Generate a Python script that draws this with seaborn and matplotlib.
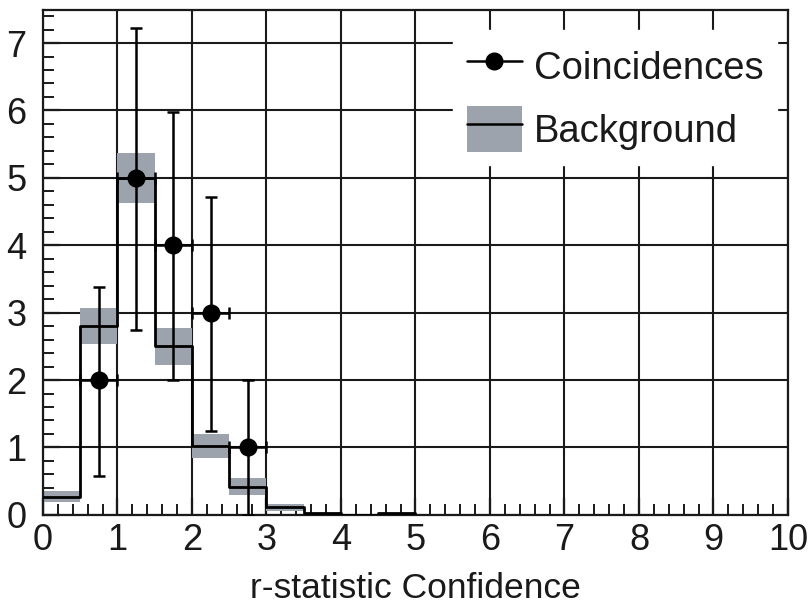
import numpy as np
import pandas as pd
import matplotlib
matplotlib.use("Agg")
import matplotlib.pyplot as plt
from matplotlib.lines import Line2D
from matplotlib.patches import Patch
from matplotlib.legend_handler import HandlerTuple
from matplotlib.ticker import MultipleLocator
import seaborn as sns

# Background expectation per 0.5-wide bin of the r-statistic confidence
bin_edges = [0.0, 0.5, 1.0, 1.5, 2.0, 2.5, 3.0, 3.5, 4.0, 4.5, 5.0]
background = [0.27, 2.80, 5.00, 2.50, 1.02, 0.42, 0.11, 0.03, 0.0, 0.03]
background_err = [0.08, 0.27, 0.37, 0.27, 0.18, 0.12, 0.05, 0.0, 0.0, 0.0]

# Observed coincidences with asymmetric uncertainty limits
coinc_x = [0.75, 1.25, 1.75, 2.25, 2.75]
coinc_n = [2, 5, 4, 3, 1]
coinc_low = [0.58, 2.74, 2.00, 1.24, 0.00]
coinc_high = [3.38, 7.22, 5.98, 4.72, 2.00]

x_ticks = [0, 1, 2, 3, 4, 5, 6, 7, 8, 9, 10]
y_ticks = [0, 1, 2, 3, 4, 5, 6, 7]

sns.set_style("white")
plt.rcParams["font.family"] = ["Liberation Sans", "DejaVu Sans"]
FS = 26
BAND = "#9da3ac"
INK = "#1a1a1a"

fig = plt.figure(figsize=(8.11, 6.10), dpi=100)
ax = fig.add_axes([0.053, 0.156, 0.9186, 0.8276])

edges = np.array(bin_edges)
lefts = edges[:-1]
widths = np.diff(edges)
bkg = np.array(background)
berr = np.array(background_err)
centers = lefts + widths / 2

# uncertainty band of the background
ax.bar(lefts, 2 * berr, bottom=bkg - berr, width=widths, align="edge",
       color=BAND, linewidth=0, zorder=2)

# background histogram outline
bkg_df = pd.DataFrame({"x": centers, "w": bkg})
sns.histplot(data=bkg_df, x="x", weights="w", bins=list(bin_edges),
             element="step", fill=False, color="black", linewidth=2.0,
             ax=ax, zorder=3)

# coincidence points with error bars
cx = np.array(coinc_x)
cn = np.array(coinc_n)
yerr = np.vstack([cn - np.array(coinc_low), np.array(coinc_high) - cn])
ax.errorbar(cx, cn, yerr=yerr, xerr=0.25, fmt="none", ecolor="black",
            elinewidth=1.8, capsize=4, capthick=1.8, zorder=4)
sns.scatterplot(x=cx, y=cn, color="black", s=170, edgecolor="black",
                linewidth=0, ax=ax, zorder=5, legend=False)

# axes, grid and ticks
ax.set_xlim(0, 10)
ax.set_ylim(0, 7.49)
ax.set_xticks(x_ticks)
ax.set_yticks(y_ticks)
ax.xaxis.set_minor_locator(MultipleLocator(0.2))
ax.yaxis.set_minor_locator(MultipleLocator(0.2))
ax.grid(True, which="major", color=INK, linewidth=1.5, linestyle="-")
ax.grid(False, which="minor")
ax.set_axisbelow(True)
ax.tick_params(axis="both", which="both", bottom=True, left=True,
               top=False, right=False, direction="in", color=INK)
ax.tick_params(axis="both", which="major", length=12, width=1.6,
               labelsize=FS, labelcolor=INK)
ax.tick_params(axis="both", which="minor", length=8, width=1.4)
ax.tick_params(axis="x", which="major", pad=6)
ax.tick_params(axis="y", which="major", pad=12)
for s in ax.spines.values():
    s.set_visible(True)
    s.set_color(INK)
    s.set_linewidth(1.6)

ax.set_xlabel("r-statistic Confidence", fontsize=25.5, color=INK,
              labelpad=10)
ax.set_ylabel("")

handles = [
    Line2D([], [], color="black", marker="o", markersize=12, linewidth=1.8),
    (Patch(facecolor=BAND, edgecolor="none"),
     Line2D([], [], color="black", linewidth=1.8)),
]
leg = ax.legend(handles, ["Coincidences", "Background"],
                handler_map={tuple: HandlerTuple(ndivide=1, pad=0)},
                loc="upper right", bbox_to_anchor=(0.995, 0.975),
                fontsize=27.5, frameon=True, framealpha=1, edgecolor="white",
                facecolor="white", handlelength=1.45, handleheight=1.45,
                handletextpad=0.3, labelspacing=0.45, borderpad=0.35,
                borderaxespad=0.2)
for t in leg.get_texts():
    t.set_color(INK)

fig.savefig("out.png", dpi=100, facecolor="white")
